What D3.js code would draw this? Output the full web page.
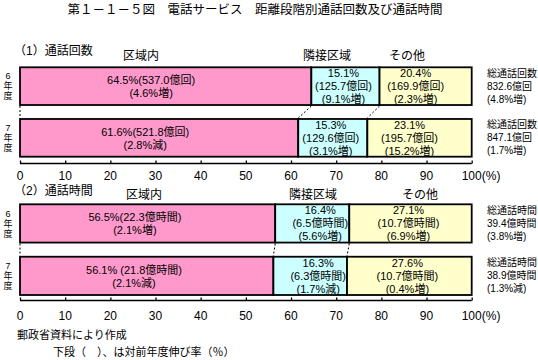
<!DOCTYPE html>
<html><head><meta charset="utf-8">
<script src="https://cdn.jsdelivr.net/npm/d3@7"></script>
<style>
html,body{margin:0;padding:0;background:#fff;}
svg{display:block;font-family:"Liberation Sans","Noto Sans CJK JP",sans-serif;}
</style></head>
<body><svg id="c" width="538" height="360"></svg>
<script>
// ---- data ----
const years = ["6年度", "7年度"];
const categories = ["区域内", "隣接区域", "その他"];
const ticks = [0, 10, 20, 30, 40, 50, 60, 70, 80, 90, 100];

const countShares6 = [64.5, 15.1, 20.4];
const countShares7 = [61.6, 15.3, 23.1];
const countValues6 = [537.0, 125.7, 169.9];
const countValues7 = [521.8, 129.6, 195.7];
const countGrowth6 = ["4.6%増", "9.1%増", "2.3%増"];
const countGrowth7 = ["2.8%減", "3.1%増", "15.2%増"];
const countTotals = [832.6, 847.1];
const countTotalGrowth = ["4.8%増", "1.7%増"];

const timeShares6 = [56.5, 16.4, 27.1];
const timeShares7 = [56.1, 16.3, 27.6];
const timeValues6 = [22.3, 6.5, 10.7];
const timeValues7 = [21.8, 6.3, 10.7];
const timeGrowth6 = ["2.1%増", "5.6%増", "6.9%増"];
const timeGrowth7 = ["2.1%減", "1.7%減", "0.4%増"];
const timeTotals = [39.4, 38.9];
const timeTotalGrowth = ["3.8%増", "1.3%減"];

const colors = ["#FF99CC", "#CCFFFF", "#FFFFCC"];

// ---- chart ----
const svg = d3.select("#c");
const x = d3.scaleLinear().domain([0, 100]).range([20, 471.7]);

svg.append("text").attr("x", 255).attr("y", 10).attr("dy", "0.35em")
  .attr("text-anchor", "middle").attr("font-size", 12.5)
  .text("第１－１－５図　電話サービス　距離段階別通話回数及び通話時間");

function panel(opts) {
  const rows = [
    {year: years[0], shares: opts.shares[0], values: opts.values[0], growth: opts.growth[0], total: opts.totals[0], tgrowth: opts.totalGrowth[0]},
    {year: years[1], shares: opts.shares[1], values: opts.values[1], growth: opts.growth[1], total: opts.totals[1], tgrowth: opts.totalGrowth[1]}
  ];
  const y = d3.scaleBand().domain(years).range(opts.yRange).paddingInner(0.27).paddingOuter(0);
  const g = svg.append("g");

  g.append("text").attr("x", 14).attr("y", opts.titleY).attr("dy", "0.35em")
    .attr("font-size", 12).text(opts.title);
  categories.forEach((c, i) => {
    g.append("text").attr("x", opts.headerX[i]).attr("y", opts.headerY).attr("dy", "0.35em")
      .attr("text-anchor", "middle").attr("font-size", 12).text(c);
  });

  rows.forEach(r => {
    const y0 = y(r.year), bh = y.bandwidth(), cy = y0 + bh / 2;
    let cum = 0;
    const segs = r.shares.map((s, i) => { const o = {i, s, start: cum, end: cum + s, v: r.values[i], gr: r.growth[i]}; cum += s; return o; });
    r.segs = segs;
    g.selectAll(null).data(segs).enter().append("rect")
      .attr("x", d => x(d.start)).attr("y", y0)
      .attr("width", d => x(d.end) - x(d.start)).attr("height", bh)
      .attr("fill", d => colors[d.i]).attr("stroke", "#000").attr("stroke-width", 1.8);

    segs.forEach(d => {
      if (d.i === 0) {
        const tx = x(d.s * 0.45);
        g.append("text").attr("x", tx).attr("y", cy - 6).attr("dy", "0.35em").attr("text-anchor", "middle")
          .attr("font-size", 11).text(d.s.toFixed(1) + "%" + opts.sep(r) + "(" + d.v.toFixed(1) + opts.unit + ")");
        g.append("text").attr("x", tx).attr("y", cy + 7).attr("dy", "0.35em").attr("text-anchor", "middle")
          .attr("font-size", 11).text("(" + d.gr + ")");
      } else {
        const tx = (x(d.start) + x(d.end)) / 2 + opts.shift[d.i];
        [d.s.toFixed(1) + "%", "(" + d.v.toFixed(1) + opts.unit + ")", "(" + d.gr + ")"].forEach((t, k) => {
          g.append("text").attr("x", tx).attr("y", cy + (k - 1) * 13).attr("dy", "0.35em")
            .attr("text-anchor", "middle").attr("font-size", 11).text(t);
        });
      }
    });
    [opts.totalLabel, r.total.toFixed(1) + opts.unit, "(" + r.tgrowth + ")"].forEach((t, k) => {
      g.append("text").attr("x", 487).attr("y", cy + (k - 1) * 13).attr("dy", "0.35em")
        .attr("font-size", 10).text(t);
    });
    const chars = [r.year.slice(0, 1), "年", "度"];
    chars.forEach((ch, k) => {
      g.append("text").attr("x", 8).attr("y", cy + (k - 1) * 10).attr("dy", "0.35em")
        .attr("text-anchor", "middle").attr("font-size", 9).text(ch);
    });
  });

  const yb = y(years[0]) + y.bandwidth(), yt = y(years[1]);
  const bounds = [[0, 0]];
  for (let i = 0; i < 2; i++) bounds.push([rows[0].segs[i].end, rows[1].segs[i].end]);
  g.selectAll(null).data(bounds).enter().append("line")
    .attr("x1", d => x(d[0])).attr("x2", d => x(d[1]))
    .attr("y1", yb + 1).attr("y2", yt - 1)
    .attr("stroke", "#000").attr("stroke-width", 1).attr("stroke-dasharray", "2,2");

  const ax = g.append("g").attr("transform", `translate(0,${opts.axisY})`)
    .call(d3.axisTop(x).tickValues(ticks).tickSize(3).tickSizeOuter(0).tickFormat(() => ""));
  ax.select(".domain").attr("stroke-width", 1.5).attr("d", `M${x(0)},0H${x(100)}`);
  ax.selectAll(".tick line").attr("stroke-width", 1.3);
  g.selectAll(null).data(ticks).enter().append("text")
    .attr("x", d => d === 100 ? x(d) - 10 : x(d)).attr("y", opts.labelY).attr("dy", "0.35em")
    .attr("text-anchor", d => d === 100 ? "start" : "middle").attr("font-size", 12)
    .text(d => d === 100 ? "100(%)" : d);
}

panel({
  title: "（1）通話回数", titleY: 51, headerY: 56, headerX: [141, 327, 407],
  shares: [countShares6, countShares7], values: [countValues6, countValues7],
  growth: [countGrowth6, countGrowth7], totals: countTotals, totalGrowth: countTotalGrowth,
  unit: "億回", totalLabel: "総通話回数", sep: () => "",
  yRange: [67.3, 156.7], axisY: 163.5, labelY: 176, shift: [0, -2, -10]
});
panel({
  title: "（2）通話時間", titleY: 191, headerY: 195, headerX: [144, 313, 420],
  shares: [timeShares6, timeShares7], values: [timeValues6, timeValues7],
  growth: [timeGrowth6, timeGrowth7], totals: timeTotals, totalGrowth: timeTotalGrowth,
  unit: "億時間", totalLabel: "総通話時間", sep: r => r.year === years[1] ? " " : "",
  yRange: [204.3, 295], axisY: 300.5, labelY: 316, shift: [0, 8, -2]
});

svg.append("text").attr("x", 17).attr("y", 335).attr("dy", "0.35em").attr("font-size", 11)
  .text("郵政省資料により作成");
svg.append("text").attr("x", 53).attr("y", 352).attr("dy", "0.35em").attr("font-size", 11)
  .text("下段（　）、は対前年度伸び率（％）");
</script></body></html>
